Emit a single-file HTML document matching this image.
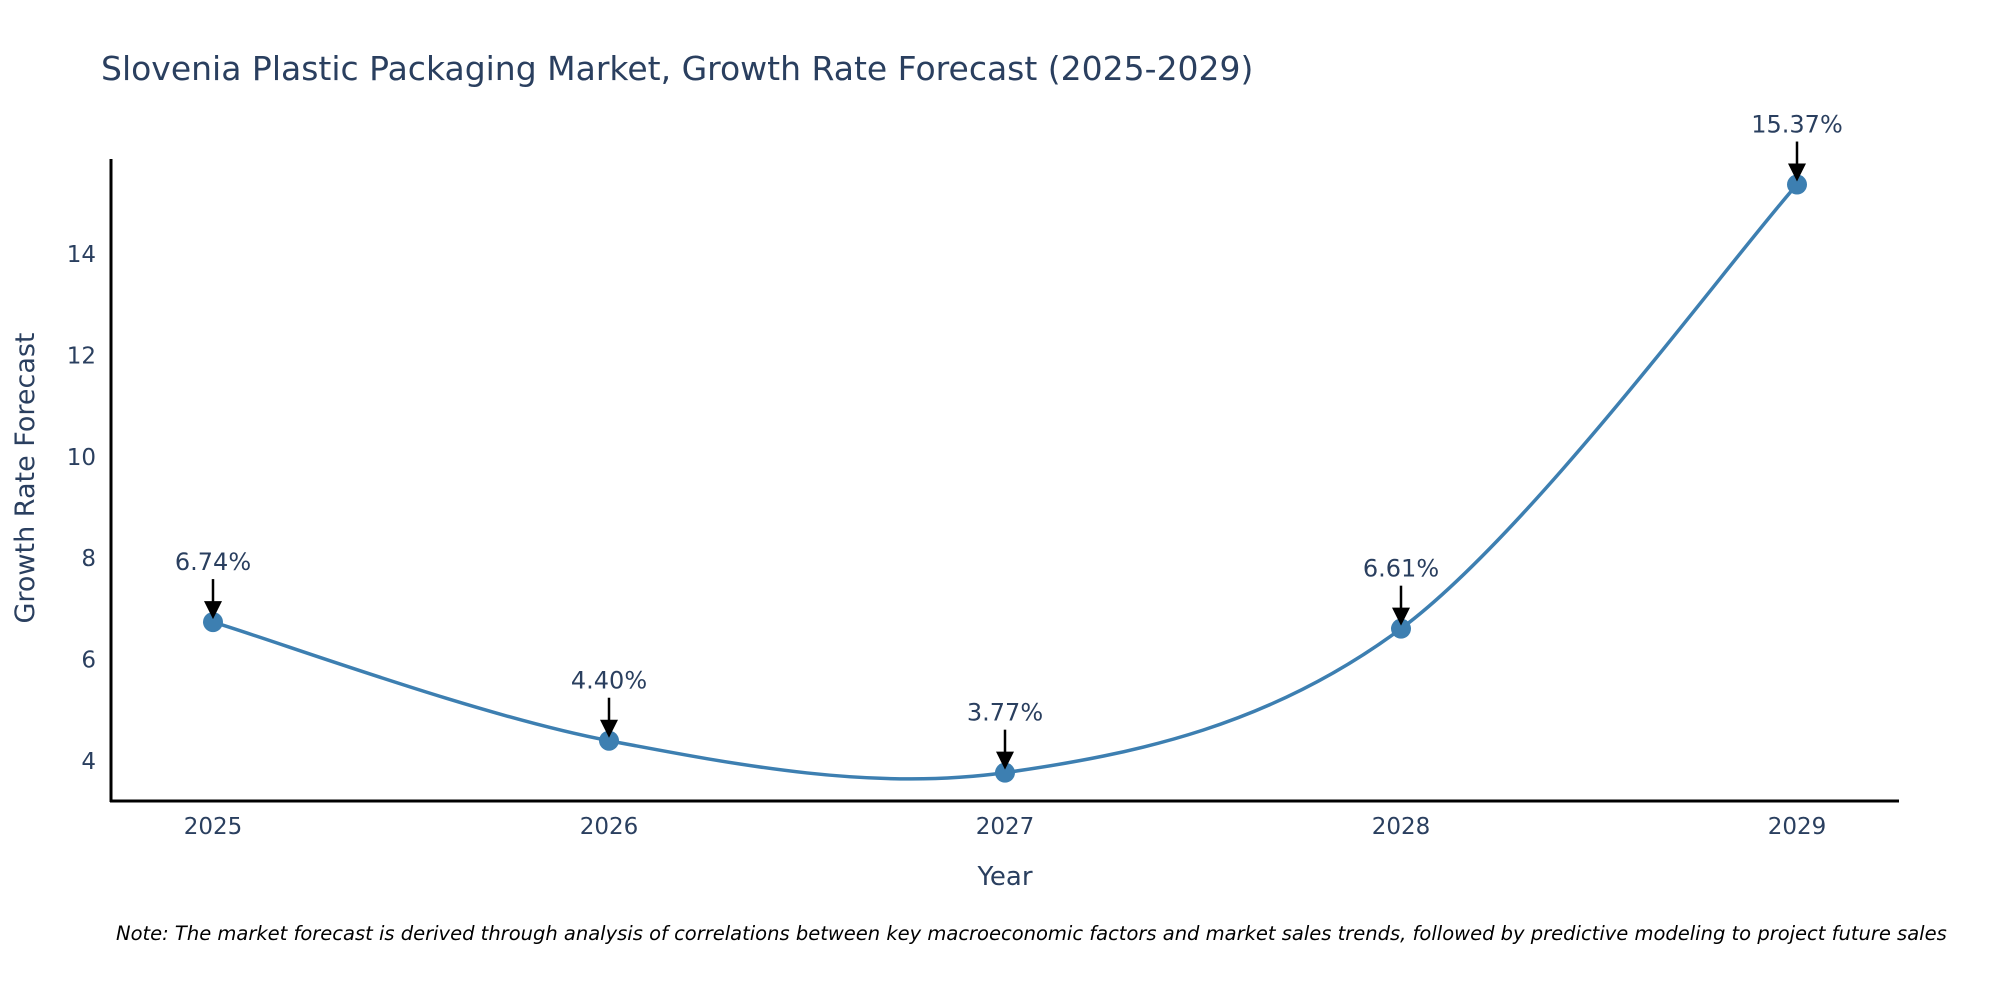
<!DOCTYPE html>
<html><head><meta charset="utf-8"><style>
body{margin:0;background:#fff;}
svg text{font-family:"DejaVu Sans","Liberation Sans",sans-serif;fill:#2a3f5f;}
</style></head><body>
<svg id="chart" width="2000" height="1000">
<text x="101" y="80" font-size="33">Slovenia Plastic Packaging Market, Growth Rate Forecast (2025-2029)</text>
<g id="yticks"></g><g id="xticks"></g>
<line x1="111" y1="159" x2="111" y2="802" stroke="#000" stroke-width="3"/>
<line x1="110" y1="801" x2="1899" y2="801" stroke="#000" stroke-width="3"/>
<path id="line" fill="none" stroke="#3d7fb1" stroke-width="3.5"/>
<g id="pts"></g>
<text x="1005" y="885" font-size="26" text-anchor="middle">Year</text>
<text transform="translate(34,478) rotate(-90)" font-size="27" text-anchor="middle">Growth Rate Forecast</text>
<text x="116" y="940" font-size="19.5" font-style="italic" style="fill:#000">Note: The market forecast is derived through analysis of correlations between key macroeconomic factors and market sales trends, followed by predictive modeling to project future sales</text>
</svg>
<script>
const years = [2025, 2026, 2027, 2028, 2029];
const values = [6.74, 4.40, 3.77, 6.61, 15.37];
const labels = ["6.74%", "4.40%", "3.77%", "6.61%", "15.37%"];
const yTicks = [4, 6, 8, 10, 12, 14];
const NS = "http://www.w3.org/2000/svg";
const xs = y => 213 + (y - 2025) * 396;
const ys = v => 761 - (v - 4) * 50.7;
const yt = document.getElementById('yticks');
yTicks.forEach(t => {
  const e = document.createElementNS(NS, 'text');
  
  
  e.setAttribute('x', 96); e.setAttribute('y', ys(t) + 8);
  e.setAttribute('font-size', '23'); e.setAttribute('text-anchor', 'end');
  e.textContent = t; yt.appendChild(e);
});
const xt = document.getElementById('xticks');
years.forEach(y => {
  const e = document.createElementNS(NS, 'text');
  
  
  e.setAttribute('x', xs(y)); e.setAttribute('y', 834);
  e.setAttribute('font-size', '23'); e.setAttribute('text-anchor', 'middle');
  e.textContent = y; xt.appendChild(e);
});
const P = years.map((y, i) => [xs(y), ys(values[i])]);
let d = 'M' + P[0][0] + ',' + P[0][1];
const tn = 0.33;
for (let i = 0; i < P.length - 1; i++) {
  const p0 = P[i - 1] || P[i], p1 = P[i], p2 = P[i + 1], p3 = P[i + 2] || P[i + 1];
  const c1 = [p1[0] + (p2[0] - p0[0]) * tn / 2, p1[1] + (p2[1] - p0[1]) * tn / 2];
  const c2 = [p2[0] - (p3[0] - p1[0]) * tn / 2, p2[1] - (p3[1] - p1[1]) * tn / 2];
  d += ' C' + c1[0] + ',' + c1[1] + ' ' + c2[0] + ',' + c2[1] + ' ' + p2[0] + ',' + p2[1];
}
document.getElementById('line').setAttribute('d', d);
const g = document.getElementById('pts');
P.forEach((p, i) => {
  const c = document.createElementNS(NS, 'circle');
  
  
  c.setAttribute('cx', p[0]); c.setAttribute('cy', p[1]); c.setAttribute('r', 10);
  c.setAttribute('fill', '#3d7fb1'); g.appendChild(c);
  const a = document.createElementNS(NS, 'line');
  
  
  a.setAttribute('x1', p[0]); a.setAttribute('y1', p[1] - 43);
  a.setAttribute('x2', p[0]); a.setAttribute('y2', p[1] - 15);
  a.setAttribute('stroke', '#000'); a.setAttribute('stroke-width', 2.5);
  g.appendChild(a);
  const r = document.createElementNS(NS, 'polygon');
  
  
  r.setAttribute('points', (p[0]-9)+','+(p[1]-21)+' '+(p[0]+9)+','+(p[1]-21)+' '+p[0]+','+(p[1]-3));
  r.setAttribute('fill', '#000'); g.appendChild(r);
  const t = document.createElementNS(NS, 'text');
  
  
  t.setAttribute('x', p[0]); t.setAttribute('y', p[1] - 52);
  t.setAttribute('font-size', '24'); t.setAttribute('text-anchor', 'middle');
  t.textContent = labels[i]; g.appendChild(t);
});
</script>
</body></html>
